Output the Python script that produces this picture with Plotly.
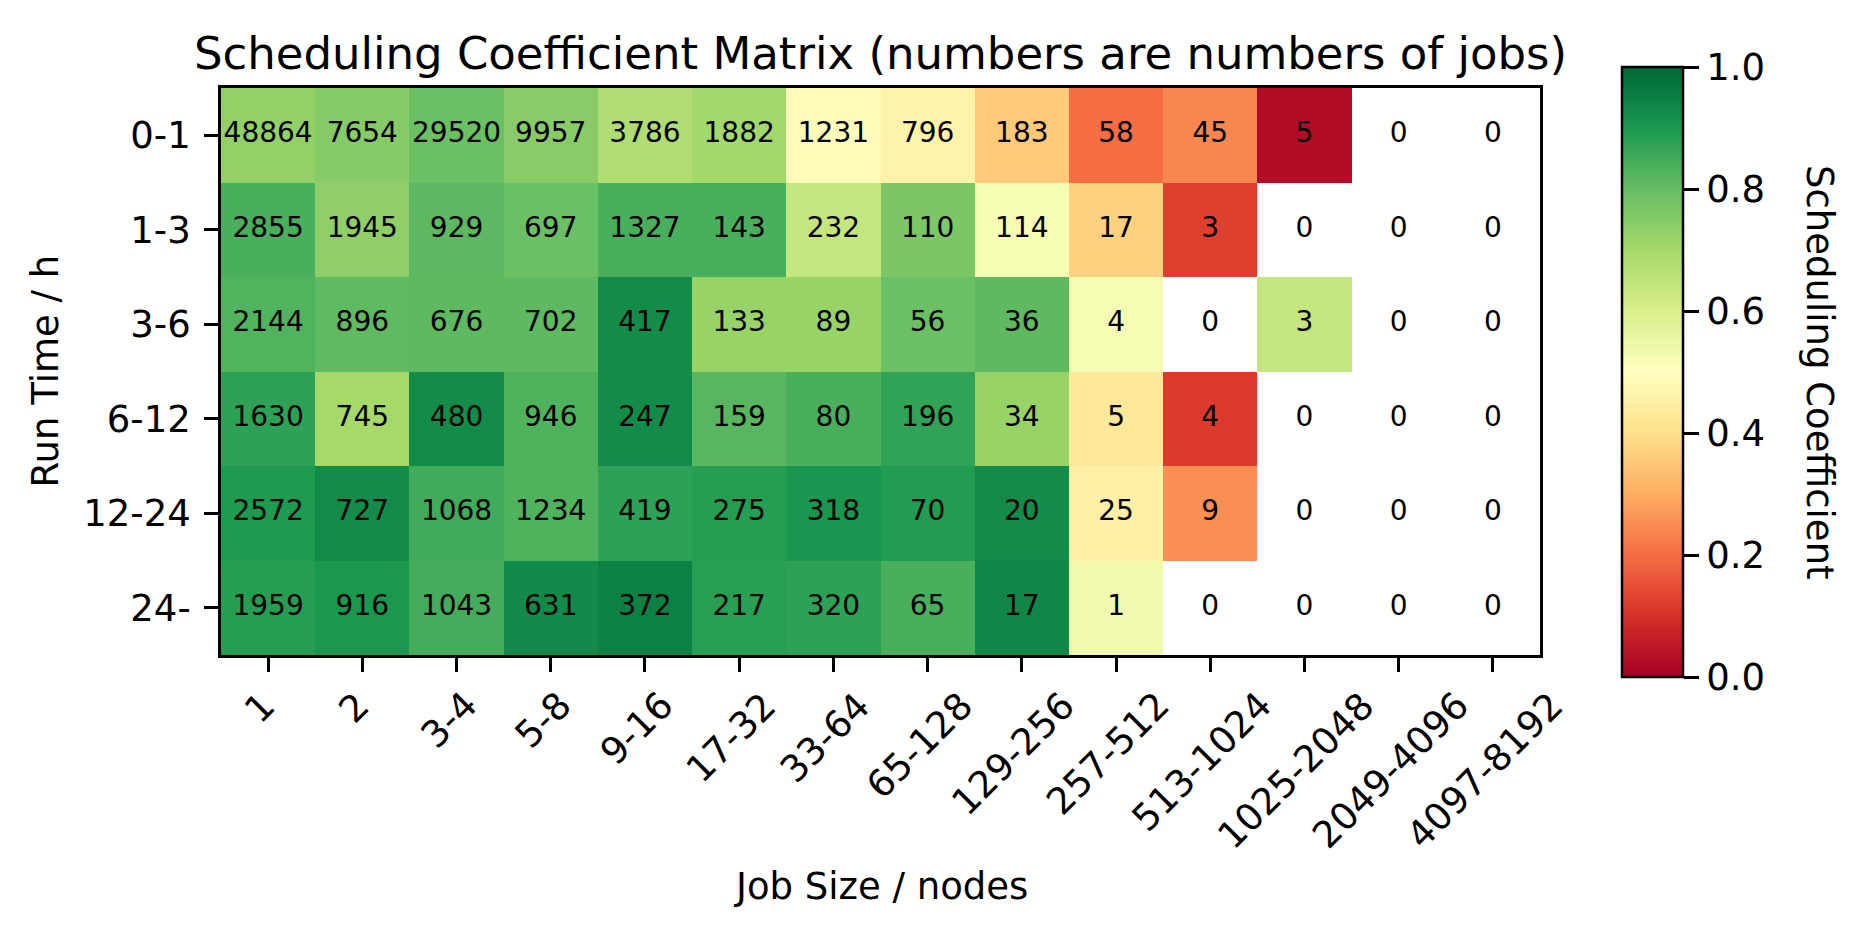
import plotly.graph_objects as go

# Job size bins (columns) and run time bins (rows, top to bottom)
job_sizes = ["1", "2", "3-4", "5-8", "9-16", "17-32", "33-64", "65-128",
             "129-256", "257-512", "513-1024", "1025-2048", "2049-4096", "4097-8192"]
run_times = ["0-1", "1-3", "3-6", "6-12", "12-24", "24-"]

# Number of jobs in each cell
jobs_0_1 = [48864, 7654, 29520, 9957, 3786, 1882, 1231, 796, 183, 58, 45, 5, 0, 0]
jobs_1_3 = [2855, 1945, 929, 697, 1327, 143, 232, 110, 114, 17, 3, 0, 0, 0]
jobs_3_6 = [2144, 896, 676, 702, 417, 133, 89, 56, 36, 4, 0, 3, 0, 0]
jobs_6_12 = [1630, 745, 480, 946, 247, 159, 80, 196, 34, 5, 4, 0, 0, 0]
jobs_12_24 = [2572, 727, 1068, 1234, 419, 275, 318, 70, 20, 25, 9, 0, 0, 0]
jobs_24 = [1959, 916, 1043, 631, 372, 217, 320, 65, 17, 1, 0, 0, 0, 0]

# Scheduling coefficient (None where there are no jobs)
coef_0_1 = [0.73, 0.75, 0.79, 0.745, 0.68, 0.705, 0.49, 0.46, 0.355, 0.20, 0.24, 0.025, None, None]
coef_1_3 = [0.837, 0.735, 0.812, 0.79, 0.837, 0.837, 0.64, 0.765, 0.52, 0.37, 0.125, None, None, None]
coef_3_6 = [0.826, 0.808, 0.81, 0.81, 0.927, 0.722, 0.722, 0.79, 0.81, 0.52, None, 0.64, None, None]
coef_6_12 = [0.875, 0.70, 0.927, 0.83, 0.927, 0.82, 0.837, 0.87, 0.722, 0.426, 0.117, None, None, None]
coef_12_24 = [0.895, 0.925, 0.85, 0.83, 0.875, 0.885, 0.905, 0.89, 0.927, 0.452, 0.252, None, None, None]
coef_24 = [0.885, 0.90, 0.845, 0.93, 0.95, 0.88, 0.875, 0.837, 0.935, 0.534, None, None, None, None]

jobs = [jobs_0_1, jobs_1_3, jobs_3_6, jobs_6_12, jobs_12_24, jobs_24]
coef = [coef_0_1, coef_1_3, coef_3_6, coef_6_12, coef_12_24, coef_24]

# matplotlib RdYlGn
rdylgn = ["#a50026", "#d73027", "#f46d43", "#fdae61", "#fee08b", "#ffffbf",
          "#d9ef8b", "#a6d96a", "#66bd63", "#1a9850", "#006837"]
colorscale = [[i / 10, c] for i, c in enumerate(rdylgn)]

FONT = "DejaVu Sans"
W, H = 1864, 936
# page body margin shifts the figure by ~8px, so work in shifted pixels
OFF = 8
# small outer margins; the axes sit inside the paper through their domains
ML, MR, MT, MB = 10, 10, 30, 220
# wanted plot area in pixels (page coords)
L, R, T, B = 221, 1540, 88, 655


def px(xp):
    return (xp - OFF - ML) / (W - ML - MR)


def py(yp):
    return (H - MB - (yp - OFF)) / (H - MT - MB)


fig = go.Figure()

fig.add_trace(
    go.Heatmap(
        z=coef,
        x=list(range(len(job_sizes))),
        y=list(range(len(run_times))),
        zmin=0,
        zmax=1,
        colorscale=colorscale,
        hoverongaps=False,
        colorbar=dict(
            x=px(1622),
            xanchor="left",
            y=py((67 + 677) / 2),
            yanchor="middle",
            len=610 / (H - MT - MB),
            lenmode="fraction",
            thickness=61,
            thicknessmode="pixels",
            outlinecolor="black",
            outlinewidth=2.5,
            xpad=0,
            ypad=0,
            ticks="outside",
            ticklen=15,
            tickwidth=2.5,
            tickcolor="black",
            tickvals=[0, 0.2, 0.4, 0.6, 0.8, 1.0],
            ticktext=["0.0", "0.2", "0.4", "0.6", "0.8", "1.0"],
            tickfont=dict(family=FONT, size=37, color="black"),
        ),
    )
)

# Cell labels: number of jobs
xs, ys, txt = [], [], []
for i, row in enumerate(jobs):
    for j, n in enumerate(row):
        xs.append(j)
        ys.append(i)
        txt.append(str(n))

fig.add_trace(
    go.Scatter(
        x=xs,
        y=ys,
        mode="text",
        text=txt,
        textposition="middle center",
        textfont=dict(family=FONT, size=28, color="black"),
        hoverinfo="skip",
        showlegend=False,
    )
)

annotations = []
# Rotated x tick labels, centred under each tick like matplotlib
for j, name in enumerate(job_sizes):
    annotations.append(
        dict(
            text=name,
            x=j,
            xref="x",
            xshift=-8,
            y=py(681),
            yref="paper",
            xanchor="center",
            yanchor="top",
            textangle=-45,
            showarrow=False,
            font=dict(family=FONT, size=37, color="black"),
        )
    )

# Axis titles and colorbar title
annotations.append(
    dict(text="Job Size / nodes", x=px((L + R) / 2), xref="paper", y=py(886), yref="paper",
         xanchor="center", yanchor="middle", showarrow=False,
         font=dict(family=FONT, size=37, color="black"))
)
annotations.append(
    dict(text="Run Time / h", x=px(45), xref="paper", y=py((T + B) / 2), yref="paper",
         xanchor="center", yanchor="middle", textangle=-90, showarrow=False,
         font=dict(family=FONT, size=37, color="black"))
)
annotations.append(
    dict(text="Scheduling Coefficient", x=px(1820), xref="paper", y=py((67 + 677) / 2), yref="paper",
         xanchor="center", yanchor="middle", textangle=90, showarrow=False,
         font=dict(family=FONT, size=37, color="black"))
)

fig.update_layout(
    width=W,
    height=H,
    template="none",
    margin=dict(l=ML, r=MR, t=MT, b=MB, pad=0, autoexpand=False),
    paper_bgcolor="white",
    plot_bgcolor="white",
    showlegend=False,
    title=dict(
        text="Scheduling Coefficient Matrix (numbers are numbers of jobs)",
        x=((L + R) / 2 - OFF) / W,
        xref="container",
        xanchor="center",
        y=1 - (53 - OFF) / H,
        yref="container",
        yanchor="middle",
        font=dict(family=FONT, size=45, color="black"),
    ),
    annotations=annotations,
    font=dict(family=FONT, color="black"),
)

fig.update_xaxes(
    domain=[px(L), px(R)],
    range=[-0.5, len(job_sizes) - 0.5],
    tickvals=list(range(len(job_sizes))),
    showticklabels=False,
    automargin=False,
    ticks="outside",
    ticklen=14,
    tickwidth=2.5,
    tickcolor="black",
    showline=True,
    linecolor="black",
    linewidth=2.7,
    mirror=True,
    showgrid=False,
    zeroline=False,
)

fig.update_yaxes(
    domain=[py(B), py(T)],
    range=[len(run_times) - 0.5, -0.5],
    tickvals=list(range(len(run_times))),
    ticktext=run_times,
    automargin=False,
    ticks="outside",
    ticklen=14,
    tickwidth=2.5,
    tickcolor="black",
    tickfont=dict(family=FONT, size=37, color="black"),
    ticklabelstandoff=6,
    showline=True,
    linecolor="black",
    linewidth=2.7,
    mirror=True,
    showgrid=False,
    zeroline=False,
)

fig.write_html("out.html")
